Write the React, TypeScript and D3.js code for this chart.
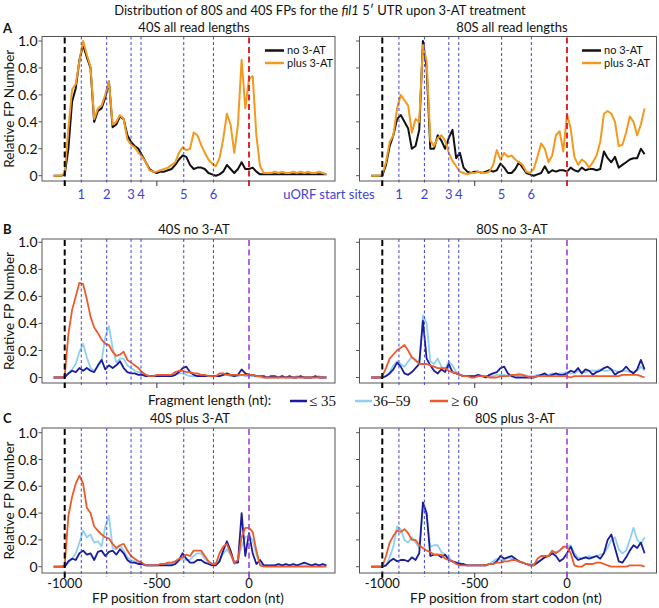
import React from "react";
import * as d3 from "d3";

// x grid (nt from start codon)
const positions = d3.range(-1060, 421, 20); // 75 points
const uorfStarts = [-910, -772, -640, -586, -354, -193];
const uorfLabels = ["1", "2", "3", "4", "5", "6"];
const yTicks = [0, 0.2, 0.4, 0.6, 0.8, 1.0];
const yTickLabels = ["0", "0.2", "0.4", "0.6", "0.8", "1.0"];
const xTicks = [-1000, -500, 0];
const xTickLabels = ["-1000", "-500", "0"];

// Panel A: 40S all read lengths
const a40No = [
  0, 0, 0, 0.01, 0.2, 0.55, 0.65, 0.86, 0.97, 0.88,
  0.8, 0.4, 0.48, 0.5, 0.58, 0.7, 0.36, 0.38, 0.44, 0.42,
  0.3, 0.25, 0.22, 0.2, 0.15, 0.1, 0.05, 0.03, 0.02, 0.03,
  0.03, 0.04, 0.05, 0.08, 0.12, 0.15, 0.14, 0.08, 0.05, 0.06,
  0.06, 0.05, 0.02, 0.01, 0.0, 0.01, 0.03, 0.08, 0.05, 0.02,
  0.05, 0.1, 0.05, 0.05, 0.06, 0.03, 0.01, 0.01, 0.01, 0.01,
  0.01, 0.01, 0.01, 0.01, 0.01, 0.01, 0.01, 0.01, 0.01, 0.01,
  0.01, 0.01, 0.01, 0.01, 0.01,
];
const a40Plus = [
  0, 0, 0, 0.02, 0.35, 0.64, 0.68, 0.85, 1.0, 0.9,
  0.81, 0.42, 0.5, 0.52, 0.6, 0.7, 0.38, 0.4, 0.45, 0.42,
  0.27, 0.23, 0.21, 0.17, 0.14, 0.1, 0.04, 0.03, 0.03, 0.04,
  0.05, 0.06, 0.08, 0.1, 0.17, 0.21, 0.19, 0.2, 0.32, 0.3,
  0.23, 0.17, 0.12, 0.09, 0.07, 0.13, 0.27, 0.46, 0.38, 0.17,
  0.38, 0.86, 0.5, 0.72, 0.74, 0.3, 0.07, 0.02, 0.02, 0.02,
  0.03, 0.02, 0.03, 0.02, 0.02, 0.03, 0.02, 0.03, 0.02, 0.03,
  0.02, 0.02, 0.03, 0.02, 0.01,
];
// Panel A: 80S all read lengths
const a80No = [
  0, 0, 0, 0, 0.08, 0.22, 0.3, 0.42, 0.45, 0.4,
  0.35, 0.2, 0.22, 0.34, 1.0, 0.8, 0.2, 0.2, 0.3, 0.26,
  0.2, 0.28, 0.34, 0.13, 0.17, 0.06, 0.03, 0.02, 0.03, 0.03,
  0.02, 0.03, 0.04, 0.03, 0.04, 0.09, 0.06, 0.02, 0.02, 0.05,
  0.1, 0.06, 0.02, 0.01, 0.0, 0.01, 0.02, 0.07, 0.02, 0.04,
  0.03, 0.04, 0.04, 0.03, 0.06, 0.04, 0.03, 0.06, 0.04, 0.05,
  0.05, 0.04, 0.05, 0.18, 0.13, 0.1, 0.14, 0.06, 0.08, 0.1,
  0.12, 0.13, 0.13, 0.2, 0.16,
];
const a80Plus = [
  0, 0, 0, 0.01, 0.1, 0.25, 0.3, 0.5, 0.6, 0.56,
  0.52, 0.32, 0.42, 0.4, 0.97, 0.85, 0.26, 0.22, 0.28, 0.3,
  0.26, 0.17, 0.11, 0.07, 0.03, 0.02, 0.01, 0.02, 0.02, 0.03,
  0.02, 0.02, 0.03, 0.08, 0.19, 0.12, 0.17, 0.14, 0.15, 0.12,
  0.1, 0.08, 0.03, 0.02, 0.05, 0.14, 0.24, 0.2, 0.1, 0.15,
  0.3, 0.33, 0.18, 0.46, 0.35, 0.14, 0.08, 0.12, 0.1, 0.06,
  0.1, 0.15, 0.25, 0.46, 0.48, 0.46, 0.4, 0.22, 0.23, 0.32,
  0.44, 0.4, 0.3, 0.38, 0.5,
];

// Panel B: 40S no 3-AT by fragment length
const b40Short = [
  0, 0, 0, 0, 0.03, 0.05, 0.04, 0.07, 0.05, 0.07,
  0.05, 0.04, 0.09, 0.13, 0.06, 0.09, 0.07, 0.09, 0.12, 0.07,
  0.04, 0.03, 0.03, 0.02, 0.02, 0.01, 0.01, 0.01, 0.01, 0.01,
  0.01, 0.01, 0.01, 0.02, 0.04, 0.07, 0.08, 0.04, 0.02, 0.01,
  0.01, 0.01, 0.01, 0.01, 0.01, 0.01, 0.02, 0.03, 0.02, 0.01,
  0.02, 0.06, 0.03, 0.02, 0.02, 0.01, 0.01, 0.01, 0.0, 0.01,
  0.01, 0.0, 0.01, 0.0, 0.01, 0.0, 0.0, 0.01, 0.0, 0.0,
  0, 0.01, 0, 0, 0,
];
const b40Mid = [
  0, 0, 0, 0.01, 0.03, 0.06, 0.1, 0.19, 0.25, 0.15,
  0.07, 0.05, 0.08, 0.12, 0.3, 0.38, 0.22, 0.11, 0.14, 0.14,
  0.09, 0.07, 0.05, 0.04, 0.03, 0.02, 0.01, 0.01, 0.01, 0.01,
  0.01, 0.01, 0.01, 0.02, 0.03, 0.03, 0.02, 0.01, 0.01, 0.01,
  0.01, 0.01, 0.01, 0.01, 0.01, 0.01, 0.02, 0.02, 0.01, 0.01,
  0.01, 0.02, 0.01, 0.01, 0.01, 0.01, 0.0, 0.0, 0.0, 0.0,
  0.0, 0.0, 0.01, 0.0, 0.0, 0.0, 0.01, 0.0, 0.0, 0.0,
  0.0, 0.0, 0.01, 0.0, 0.0,
];
const b40Long = [
  0, 0, 0, 0.01, 0.32, 0.5, 0.6, 0.7, 0.69, 0.58,
  0.45, 0.37, 0.33, 0.28, 0.25, 0.24, 0.19, 0.16, 0.17, 0.19,
  0.13, 0.11, 0.09, 0.07, 0.04, 0.02, 0.01, 0.01, 0.02, 0.02,
  0.02, 0.02, 0.02, 0.04, 0.05, 0.05, 0.04, 0.04, 0.03, 0.03,
  0.02, 0.02, 0.01, 0.01, 0.01, 0.03, 0.03, 0.02, 0.02, 0.02,
  0.02, 0.02, 0.02, 0.02, 0.02, 0.01, 0.01, 0.0, 0.0, 0.0,
  0, 0, 0, 0, 0, 0, 0, 0, 0, 0,
  0, 0, 0, 0, 0,
];
// Panel B: 80S no 3-AT
const b80Short = [
  0, 0, 0, 0, 0.01, 0.03, 0.06, 0.11, 0.08, 0.03,
  0.02, 0.04, 0.07, 0.1, 0.42, 0.14, 0.09, 0.05, 0.03, 0.06,
  0.04, 0.1, 0.04, 0.03, 0.02, 0.01, 0.01, 0.01, 0.01, 0.02,
  0.01, 0.0, 0.02, 0.03, 0.04, 0.07, 0.08, 0.03, 0.01, 0.0,
  0.0, 0.0, 0.0, 0.0, 0.0, 0.01, 0.02, 0.03, 0.01, 0.02,
  0.03, 0.02, 0.02, 0.03, 0.05, 0.04, 0.07, 0.03, 0.06, 0.05,
  0.02, 0.04, 0.05, 0.07, 0.08, 0.06, 0.02, 0.04, 0.05, 0.08,
  0.05, 0.03, 0.06, 0.13, 0.06,
];
const b80Mid = [
  0, 0, 0, 0, 0.01, 0.04, 0.09, 0.12, 0.1, 0.08,
  0.12, 0.15, 0.12, 0.1, 0.46, 0.4, 0.12, 0.1, 0.14, 0.08,
  0.06, 0.12, 0.09, 0.04, 0.02, 0.01, 0.01, 0.01, 0.01, 0.01,
  0.01, 0.01, 0.01, 0.01, 0.02, 0.02, 0.02, 0.01, 0.02, 0.02,
  0.03, 0.02, 0.01, 0.01, 0.01, 0.02, 0.02, 0.02, 0.02, 0.03,
  0.02, 0.03, 0.03, 0.04, 0.03, 0.03, 0.05, 0.04, 0.04, 0.05,
  0.05, 0.05, 0.06, 0.05, 0.05, 0.06, 0.05, 0.04, 0.05, 0.05,
  0.04, 0.04, 0.05, 0.08, 0.05,
];
const b80Long = [
  0, 0, 0, 0.01, 0.07, 0.14, 0.17, 0.2, 0.22, 0.24,
  0.2, 0.15, 0.13, 0.1, 0.1, 0.1, 0.09, 0.08, 0.07, 0.07,
  0.07, 0.05, 0.04, 0.03, 0.02, 0.01, 0.01, 0.0, 0.0, 0.01,
  0.01, 0.01, 0.0, 0.0, 0.0, 0.01, 0.01, 0.01, 0.02, 0.02,
  0.02, 0.02, 0.01, 0.0, 0.0, 0.01, 0.01, 0.01, 0.01, 0.01,
  0.01, 0.01, 0.01, 0.01, 0.0, 0.01, 0.01, 0.01, 0.01, 0.01,
  0.01, 0.01, 0.01, 0.01, 0.01, 0.01, 0.01, 0.01, 0.02, 0.02,
  0.02, 0.02, 0.02, 0.01, 0.0,
];

// Panel C: 40S plus 3-AT
const c40Short = [
  0, 0, 0, 0, 0.04, 0.06, 0.05, 0.1, 0.12, 0.09,
  0.1, 0.05, 0.11, 0.12, 0.08, 0.11, 0.12, 0.09, 0.13, 0.1,
  0.05, 0.03, 0.03, 0.02, 0.02, 0.01, 0.01, 0.01, 0.01, 0.01,
  0.01, 0.01, 0.01, 0.02, 0.05, 0.1, 0.06, 0.03, 0.03, 0.05,
  0.05, 0.03, 0.02, 0.01, 0.01, 0.04, 0.12, 0.19, 0.12, 0.03,
  0.03, 0.4, 0.08, 0.25, 0.1, 0.02, 0.05, 0.01, 0.01, 0.01,
  0.01, 0.02, 0.01, 0.02, 0.01, 0.02, 0.01, 0.02, 0.03, 0.02,
  0.01, 0.02, 0.01, 0.02, 0.01,
];
const c40Mid = [
  0, 0, 0, 0, 0.03, 0.06, 0.1, 0.18, 0.27, 0.22,
  0.24, 0.18, 0.19, 0.15, 0.3, 0.38, 0.14, 0.13, 0.16, 0.12,
  0.07, 0.05, 0.04, 0.03, 0.02, 0.01, 0.01, 0.01, 0.01, 0.02,
  0.02, 0.02, 0.02, 0.03, 0.04, 0.06, 0.05, 0.05, 0.08, 0.1,
  0.1, 0.06, 0.03, 0.02, 0.03, 0.05, 0.1, 0.13, 0.09, 0.02,
  0.05, 0.15, 0.22, 0.23, 0.2, 0.09, 0.02, 0.01, 0.01, 0.01,
  0.01, 0.01, 0.01, 0.01, 0.01, 0.01, 0.01, 0.01, 0.01, 0.01,
  0.01, 0.01, 0.01, 0.01, 0.01,
];
const c40Long = [
  0, 0, 0, 0.01, 0.38, 0.52, 0.62, 0.68, 0.62, 0.44,
  0.4, 0.3, 0.27, 0.24, 0.22, 0.21, 0.17, 0.14, 0.16, 0.17,
  0.12, 0.08, 0.06, 0.04, 0.03, 0.01, 0.01, 0.01, 0.01, 0.02,
  0.02, 0.03, 0.03, 0.04, 0.06, 0.07, 0.09, 0.08, 0.12, 0.12,
  0.12, 0.08, 0.04, 0.02, 0.02, 0.1, 0.15, 0.17, 0.1, 0.03,
  0.05, 0.22, 0.29, 0.29, 0.26, 0.12, 0.01, 0.0, 0.0, 0.0,
  0, 0, 0, 0, 0, 0, 0, 0, 0, 0,
  0, 0, 0, 0, 0,
];
// Panel C: 80S plus 3-AT
const c80Short = [
  0, 0, 0, 0, 0.01, 0.04, 0.06, 0.04, 0.05, 0.05,
  0.04, 0.07, 0.05, 0.1, 0.48, 0.4, 0.08, 0.09, 0.09, 0.07,
  0.09, 0.05, 0.04, 0.03, 0.02, 0.02, 0.01, 0.01, 0.01, 0.01,
  0.01, 0.01, 0.02, 0.02, 0.04, 0.08, 0.06, 0.07, 0.08, 0.06,
  0.04, 0.03, 0.02, 0.01, 0.01, 0.03, 0.05, 0.07, 0.08, 0.1,
  0.08, 0.04, 0.06, 0.1, 0.15, 0.08, 0.05, 0.06, 0.07, 0.06,
  0.07, 0.08, 0.06, 0.1, 0.2, 0.24, 0.14, 0.04, 0.03, 0.07,
  0.12, 0.16, 0.14, 0.18, 0.1,
];
const c80Mid = [
  0, 0, 0, 0, 0.01, 0.07, 0.15, 0.3, 0.28, 0.2,
  0.18, 0.22, 0.18, 0.14, 0.44, 0.38, 0.15, 0.16, 0.16, 0.11,
  0.09, 0.07, 0.04, 0.03, 0.03, 0.01, 0.01, 0.01, 0.01, 0.01,
  0.01, 0.01, 0.02, 0.04, 0.06, 0.05, 0.05, 0.07, 0.06, 0.05,
  0.04, 0.03, 0.02, 0.02, 0.02, 0.04, 0.05, 0.08, 0.08, 0.1,
  0.11, 0.12, 0.14, 0.15, 0.16, 0.1, 0.07, 0.06, 0.07, 0.08,
  0.07, 0.08, 0.09, 0.1, 0.14, 0.2, 0.22, 0.13, 0.1, 0.12,
  0.2, 0.29, 0.2, 0.17, 0.22,
];
const c80Long = [
  0, 0, 0, 0, 0.08, 0.18, 0.23, 0.27, 0.26, 0.28,
  0.25, 0.2, 0.2, 0.16, 0.14, 0.12, 0.11, 0.09, 0.09, 0.09,
  0.06, 0.05, 0.04, 0.02, 0.01, 0.01, 0.01, 0.01, 0.01, 0.01,
  0.01, 0.01, 0.02, 0.02, 0.03, 0.03, 0.04, 0.04, 0.05, 0.05,
  0.04, 0.03, 0.02, 0.01, 0.01, 0.06, 0.08, 0.08, 0.08, 0.12,
  0.1, 0.12, 0.15, 0.15, 0.1, 0.01, 0.0, 0.0, 0.02, 0.02,
  0.02, 0.03, 0.03, 0.02, 0.01, 0.0, 0.0, 0.0, 0.0, 0.0,
  0.01, 0.01, 0.01, 0.01, 0.0,
];

const FONT = "Lato, 'Open Sans', sans-serif";
const SERIF = "'Liberation Serif', 'DejaVu Serif', serif";
const C_BLACK = "#111111";
const C_ORANGE = "#f39a1e";
const C_DARK = "#1b1b9c";
const C_LIGHT = "#8fd0f2";
const C_RED = "#ef5a2b";
const C_UORF = "#4242d2";
const C_ZERO_A = "#e3262c";
const C_ZERO_BC = "#a03ee0";
const C_AXIS = "#555555";

const COLS = [
  { x0: 42, x1: 335, xA: 64.7, xB: 249 },
  { x0: 359.5, x1: 656.5, xA: 382.3, xB: 567 },
];
const ROWS = [
  { top: 36.5, bottom: 181, y0: 175.7, y1: 41 },
  { top: 239, bottom: 383, y0: 377.5, y1: 242.3 },
  { top: 428, bottom: 573, y0: 566.7, y1: 432.7 },
];

type Series = { values: number[]; color: string; w: number };

function Panel(props: {
  col: number; row: number; title: string; titleX: number;
  series: Series[]; zeroColor: string; zeroWidth: number;
  yLabels: boolean; xLabels: boolean; tickColors: string[];
}) {
  const c = COLS[props.col];
  const r = ROWS[props.row];
  const x = d3.scaleLinear().domain([-1000, 0]).range([c.xA, c.xB]);
  const y = d3.scaleLinear().domain([0, 1]).range([r.y0, r.y1]);
  const line = d3.line<number>().x((_, i) => x(positions[i])).y((d) => y(d));
  return (
    <g>
      <text x={props.titleX} y={r.top - 5} textAnchor="middle" fontSize={13} fontFamily={FONT} fill="#111">
        {props.title}
      </text>
      {props.series.map((s, i) => (
        <path key={i} d={line(s.values) || ""} fill="none" stroke={s.color} strokeWidth={s.w} strokeLinejoin="round" />
      ))}
      {uorfStarts.map((u, i) => (
        <line key={i} x1={x(u)} x2={x(u)} y1={r.top} y2={r.bottom + 4} stroke={C_UORF} strokeWidth={1} strokeDasharray="3,2.5" />
      ))}
      <line x1={x(-1000)} x2={x(-1000)} y1={r.top + 1} y2={r.bottom + 5} stroke="#000" strokeWidth={2} strokeDasharray="6,3.5" />
      <line x1={x(0)} x2={x(0)} y1={r.top + 1} y2={r.bottom + 5} stroke={props.zeroColor} strokeWidth={props.zeroWidth} strokeDasharray="6,3.5" />
      <rect x={c.x0} y={r.top} width={c.x1 - c.x0} height={r.bottom - r.top} fill="none" stroke={C_AXIS} strokeWidth={1} />
      {yTicks.map((t, i) => (
        <g key={i}>
          <line x1={c.x0 - 3.5} x2={c.x0} y1={y(t)} y2={y(t)} stroke={C_AXIS} strokeWidth={1} />
          {props.yLabels && (
            <text x={c.x0 - 4.5} y={y(t)} dy="0.36em" textAnchor="end" fontSize={14} fontFamily={FONT} fill="#111">
              {yTickLabels[i]}
            </text>
          )}
        </g>
      ))}
      {xTicks.map((t, i) => (
        <g key={i}>
          <line x1={x(t)} x2={x(t)} y1={r.bottom} y2={r.bottom + 5} stroke={props.tickColors[i]} strokeWidth={1.2} />
          {props.xLabels && (
            <text x={x(t)} y={r.bottom + 15} textAnchor="middle" fontSize={13} fontFamily={FONT} fill="#111">
              {xTickLabels[i]}
            </text>
          )}
        </g>
      ))}
    </g>
  );
}

function LegendA({ lx }: { lx: number }) {
  return (
    <g fontFamily={FONT} fontSize={11} fill="#111">
      <line x1={lx} x2={lx + 19} y1={50.5} y2={50.5} stroke={C_BLACK} strokeWidth={2.5} />
      <text x={lx + 22} y={50.5} dy="0.35em">no 3-AT</text>
      <line x1={lx} x2={lx + 19} y1={63} y2={63} stroke={C_ORANGE} strokeWidth={2.5} />
      <text x={lx + 22} y={63} dy="0.35em">plus 3-AT</text>
    </g>
  );
}

export default function App() {
  const fragSeries = (s: number[], m: number[], l: number[]): Series[] => [
    { values: m, color: C_LIGHT, w: 1.8 },
    { values: s, color: C_DARK, w: 1.8 },
    { values: l, color: C_RED, w: 1.8 },
  ];
  const uorfX = COLS.map((c) => d3.scaleLinear().domain([-1000, 0]).range([c.xA, c.xB]));
  return (
    <svg width={659} height={608} style={{ position: "absolute", left: 0, top: 0, background: "#fff" }}>
      <rect x={0} y={0} width={659} height={608} fill="#fff" />
      <text x={320} y={15} textAnchor="middle" fontSize={13} fontFamily={FONT} fill="#111">
        Distribution of 80S and 40S FPs for the <tspan fontStyle="italic">fil1</tspan> 5′ UTR upon 3-AT treatment
      </text>
      {[["A", 33], ["B", 234], ["C", 423]].map(([l, yy]) => (
        <text key={l as string} x={3} y={yy as number} fontSize={13} fontWeight="bold" fontFamily={FONT} fill="#111">{l}</text>
      ))}
      {ROWS.map((r, i) => (
        <text key={i} transform={`translate(14,${(r.top + r.bottom) / 2}) rotate(-90)`} textAnchor="middle" fontSize={13.5} fontFamily={FONT} fill="#111">
          Relative FP Number
        </text>
      ))}

      <Panel col={0} row={0} title="40S all read lengths" titleX={194}
        series={[{ values: a40No, color: C_BLACK, w: 2 }, { values: a40Plus, color: C_ORANGE, w: 2 }]}
        zeroColor={C_ZERO_A} zeroWidth={2} yLabels={true} xLabels={false} tickColors={["#000", C_AXIS, C_ZERO_A]} />
      <Panel col={1} row={0} title="80S all read lengths" titleX={512}
        series={[{ values: a80No, color: C_BLACK, w: 2 }, { values: a80Plus, color: C_ORANGE, w: 2 }]}
        zeroColor={C_ZERO_A} zeroWidth={2} yLabels={false} xLabels={false} tickColors={["#000", C_AXIS, C_ZERO_A]} />
      <LegendA lx={265} />
      <LegendA lx={582} />

      {COLS.map((c, ci) => (
        <g key={ci}>
          {uorfStarts.map((u, i) => (
            <text key={i} x={uorfX[ci](u)} y={199} textAnchor="middle" fontSize={13} fontFamily={FONT} fill={C_UORF}>
              {uorfLabels[i]}
            </text>
          ))}
        </g>
      ))}
      <text x={329} y={199} textAnchor="middle" fontSize={13} fontFamily={FONT} fill={C_UORF}>uORF start sites</text>

      <Panel col={0} row={1} title="40S no 3-AT" titleX={194}
        series={fragSeries(b40Short, b40Mid, b40Long)}
        zeroColor={C_ZERO_BC} zeroWidth={1.6} yLabels={true} xLabels={false} tickColors={["#000", C_AXIS, C_ZERO_BC]} />
      <Panel col={1} row={1} title="80S no 3-AT" titleX={512}
        series={fragSeries(b80Short, b80Mid, b80Long)}
        zeroColor={C_ZERO_BC} zeroWidth={1.6} yLabels={false} xLabels={false} tickColors={["#000", C_AXIS, C_ZERO_BC]} />

      <g>
        <text x={148} y={405} fontSize={13.5} fontFamily={FONT} fill="#111">Fragment length (nt):</text>
        <line x1={290} x2={307} y1={401} y2={401} stroke={C_DARK} strokeWidth={2.5} />
        <text x={309} y={406} fontSize={15} fontFamily={SERIF} fill="#111">≤ 35</text>
        <line x1={355} x2={372} y1={401} y2={401} stroke={C_LIGHT} strokeWidth={2.5} />
        <text x={373} y={406} fontSize={15} fontFamily={SERIF} fill="#111">36–59</text>
        <line x1={430} x2={448} y1={401} y2={401} stroke={C_RED} strokeWidth={2.5} />
        <text x={451} y={406} fontSize={15} fontFamily={SERIF} fill="#111">≥ 60</text>
      </g>

      <Panel col={0} row={2} title="40S plus 3-AT" titleX={190}
        series={fragSeries(c40Short, c40Mid, c40Long)}
        zeroColor={C_ZERO_BC} zeroWidth={1.6} yLabels={true} xLabels={true} tickColors={["#000", C_AXIS, C_ZERO_BC]} />
      <Panel col={1} row={2} title="80S plus 3-AT" titleX={515}
        series={fragSeries(c80Short, c80Mid, c80Long)}
        zeroColor={C_ZERO_BC} zeroWidth={1.6} yLabels={false} xLabels={true} tickColors={["#000", C_AXIS, C_ZERO_BC]} />

      <text x={188} y={603} textAnchor="middle" fontSize={13.5} fontFamily={FONT} fill="#111">FP position from start codon (nt)</text>
      <text x={506} y={603} textAnchor="middle" fontSize={13.5} fontFamily={FONT} fill="#111">FP position from start codon (nt)</text>
    </svg>
  );
}
